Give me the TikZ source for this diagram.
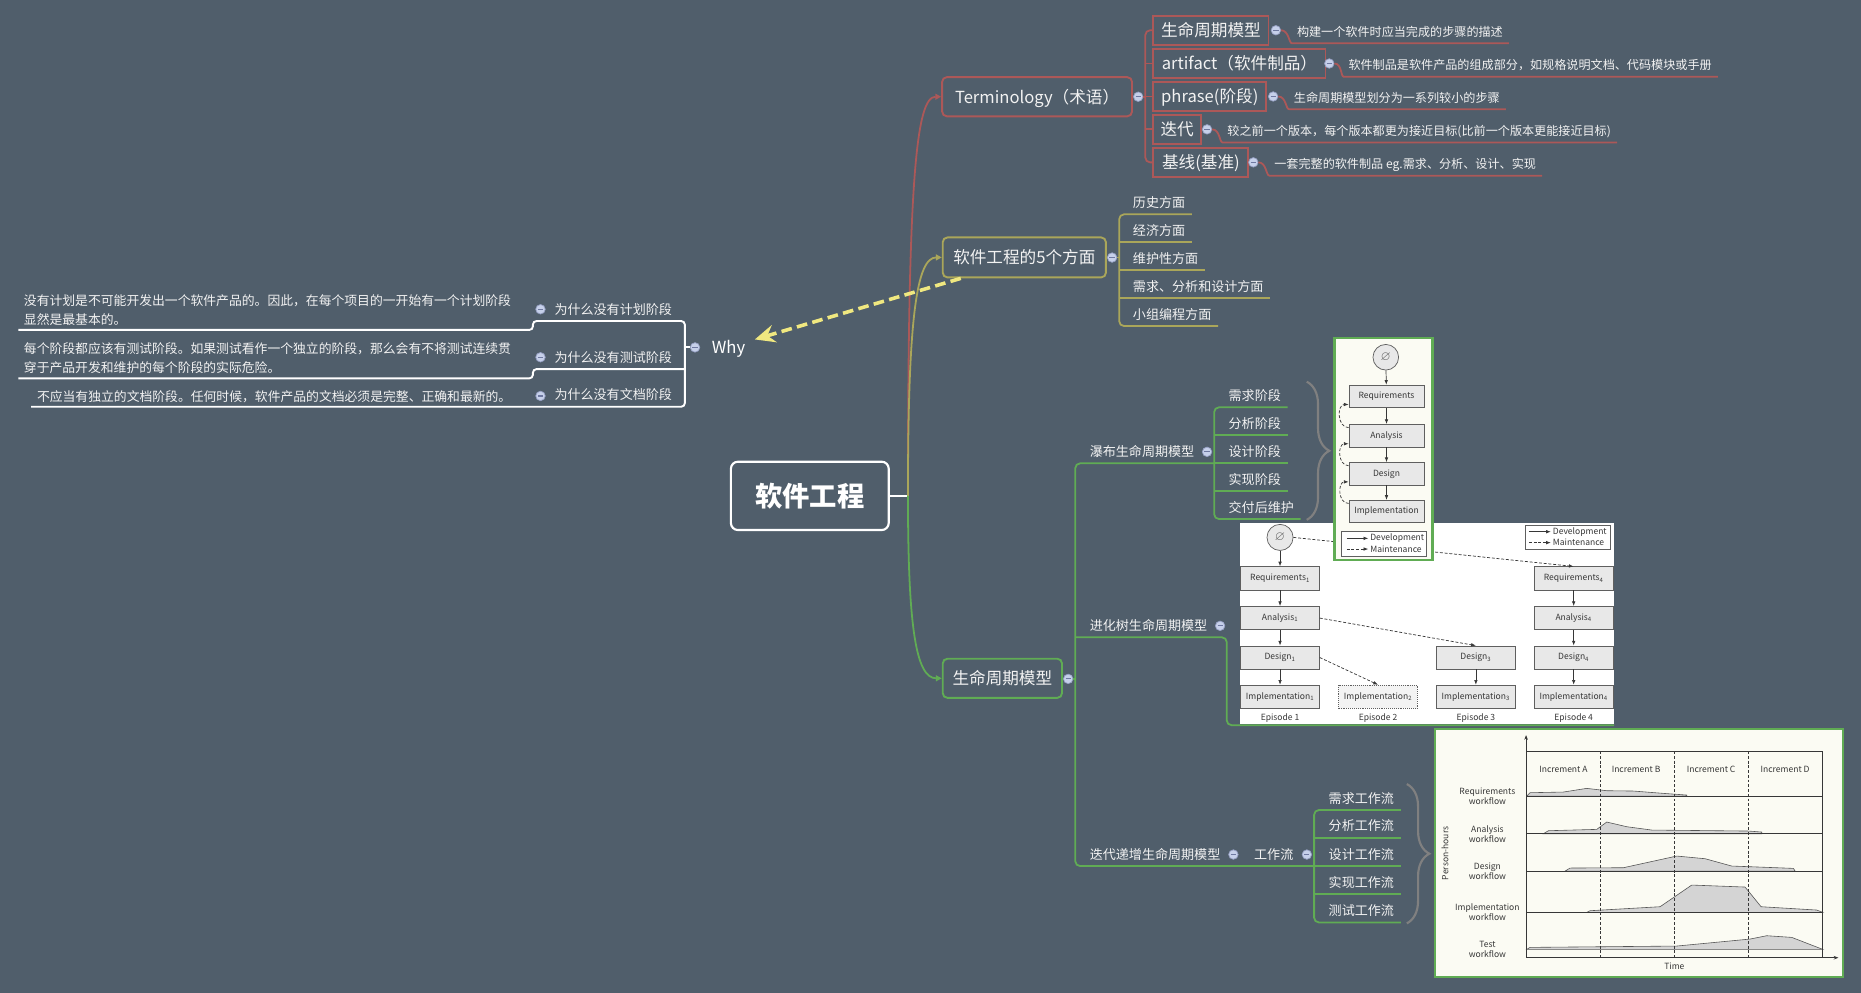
\documentclass[tikz,border=0pt]{standalone}
\usepackage{fontspec}
\setmainfont{Noto Sans CJK SC}
\usepackage{amssymb}
\usetikzlibrary{arrows.meta,decorations.pathreplacing,positioning}

\definecolor{bgc}{RGB}{80,94,107}
\definecolor{termred}{RGB}{172,88,88}
\definecolor{aspolive}{RGB}{170,166,90}
\definecolor{lifegreen}{RGB}{96,172,84}
\definecolor{whyyellow}{RGB}{240,232,128}
\definecolor{foldfill}{RGB}{198,208,234}
\definecolor{foldrim}{RGB}{150,160,195}
\definecolor{foldbar}{RGB}{110,120,160}
\definecolor{txt}{RGB}{242,242,242}
\definecolor{bracegray}{RGB}{128,128,128}
\definecolor{figboxfill}{RGB}{232,232,232}
\definecolor{figink}{RGB}{55,55,55}
\definecolor{figcream}{RGB}{251,251,243}
\definecolor{chartfill}{RGB}{212,212,212}

\newcommand{\rootsize}{\fontsize{23}{26}\selectfont\bfseries}
\newcommand{\topicsize}{\fontsize{14}{16}\selectfont}
\newcommand{\leafsize}{\fontsize{11}{13}\selectfont}
\newcommand{\notesize}{\fontsize{10.2}{12}\selectfont}
\newcommand{\whysize}{\fontsize{10.8}{16}\selectfont}
\newcommand{\figsize}{\fontsize{7.2}{8.4}\selectfont}
\newcommand{\emptysize}{\fontsize{11}{11}\selectfont}
\newcommand{\foldat}[2]{
    \node[fold] (#1) at (#2) {};
}

\tikzset{
    root/.style={draw=white, line width=1.8pt, rounded corners=6pt, text=white, font=\rootsize,
        minimum width=133pt, minimum height=57.6pt, inner sep=0pt, text height=17.5pt, text depth=0pt},
    topic/.style={line width=1.6pt, rounded corners=4pt, text=txt, font=\topicsize, minimum height=33pt,
        inner xsep=6pt, text height=10.6pt, text depth=0pt, anchor=west},
    termbox/.style={draw=termred, line width=1.6pt, text=txt, font=\topicsize, minimum height=24.5pt,
        inner xsep=5pt, text height=10.6pt, text depth=0pt, anchor=west},
    whytext/.style={text=white, font=\topicsize, inner sep=0pt, anchor=base west},
    leaf/.style={text=txt, font=\leafsize, inner xsep=0pt, inner ysep=5.5pt, text depth=0pt, anchor=south west},
    note/.style={text=txt, font=\notesize, inner xsep=0pt, inner ysep=5.6pt, text depth=0pt, anchor=south west},
    whynote/.style={text=txt, font=\whysize, align=left, inner xsep=0pt, inner ysep=4.5pt, text depth=0pt, anchor=south west},
    fold/.style={circle, draw=foldrim, fill=foldfill, line width=0.6pt, inner sep=0pt, minimum size=8pt,
        path picture={\draw[foldbar, line width=1pt] ([xshift=-2.2pt]path picture bounding box.center) -- ([xshift=2.2pt]path picture bounding box.center);}},
    termbr/.style={draw=termred, line width=1.5pt, rounded corners=4pt},
    aspbr/.style={draw=aspolive, line width=1.5pt, rounded corners=4pt},
    lifebr/.style={draw=lifegreen, line width=1.5pt, rounded corners=4pt},
    whybr/.style={draw=white, line width=1.6pt, rounded corners=3pt},
    branchtip/.style={-{Triangle[length=5pt,width=5pt]}},
    relarrow/.style={draw=whyyellow, line width=3pt, dash pattern=on 9pt off 4.5pt,
        -{Stealth[length=17pt,width=15pt,inset=6pt]}},
    summ/.style={decorate, decoration={brace, amplitude=19pt}, draw=bracegray, line width=1.8pt},
    figframe/.style={draw=lifegreen, line width=2pt, fill=figcream},
    figbox/.style={draw=figink!80, fill=figboxfill, line width=0.6pt, font=\figsize, text=figink,
        minimum width=66.3pt, minimum height=19.5pt, inner sep=0pt},
    figcirc/.style={circle, draw=figink!80, fill=figboxfill, line width=0.6pt, font=\emptysize, text=figink!80,
        minimum size=22pt, inner sep=0pt},
    figtxt/.style={font=\figsize, text=figink, inner sep=0pt},
    dev/.style={draw=figink, line width=0.6pt, -{Latex[length=4pt,width=3pt]}},
    maint/.style={dev, dash pattern=on 2.5pt off 1.5pt},
    chartline/.style={draw=figink, line width=0.6pt},
    chartdash/.style={draw=figink, line width=0.6pt, dash pattern=on 2.5pt off 1.5pt},
    chartshape/.style={fill=chartfill, draw=figink!85, line width=0.5pt}
}

\begin{document}
\begin{tikzpicture}[x=1pt,y=-1pt]
\useasboundingbox (0,0) rectangle (1568,836.6);
\fill[bgc] (0,0) rectangle (1568,836.6);

% central topic and main branches
\node[root] (root) at (682.3,417.8) {软件工程};
\coordinate (hub) at (765,417.8);
\draw[draw=white, line width=1.6pt] (root.east) -- (hub);

\node[topic, draw=termred, minimum width=160pt] (term) at (793,81.5) {Terminology（术语）};
\node[topic, draw=aspolive, minimum width=137.5pt, minimum height=33.7pt] (five) at (793.5,216.9) {软件工程的5个方面};
\node[topic, draw=lifegreen, minimum width=100.5pt] (life) at (793.5,571.5) {生命周期模型};

\draw[termbr, branchtip] (hub) .. controls (765,150) and (772,81.5) .. (term.west);
\draw[aspbr, branchtip] (hub) .. controls (765,270) and (772,216.9) .. (five.west);
\draw[lifebr, branchtip] (hub) .. controls (765,530) and (772,571.5) .. (life.west);

% Terminology
\foldat{termf}{959,81.5}
\coordinate (termbrk) at (965,81.5);
\node[termbox, minimum width=97pt] (tm1) at (971,25.5) {生命周期模型};
\node[termbox, minimum width=145pt] (tm2) at (971,53.5) {artifact（软件制品）};
\node[termbox, minimum width=95pt] (tm3) at (971,81.3) {phrase(阶段)};
\node[termbox, minimum width=40pt] (tm4) at (971,109) {迭代};
\node[termbox, minimum width=80pt] (tm5) at (971,136.8) {基线(基准)};
\draw[termbr] (tm1.west) -- (tm1.west -| termbrk) -- (tm5.west -| termbrk) -- (tm5.west);
\foreach \k in {2,3,4}
    \draw[termbr] (tm\k.west -| termbrk) -- (tm\k.west);
\draw[termbr] (termf.east) -- (termbrk);

\foldat{tm1f}{1075,25.5}
\foldat{tm2f}{1120,53.5}
\foldat{tm3f}{1072.7,81.3}
\foldat{tm4f}{1017,109}
\foldat{tm5f}{1056,136.8}
\node[note] (tm1d) at (1092.6,36.5) {构建一个软件时应当完成的步骤的描述};
\node[note] (tm2d) at (1136,64.6) {软件制品是软件产品的组成部分，如规格说明文档、代码模块或手册};
\node[note] (tm3d) at (1090,92) {生命周期模型划分为一系列较小的步骤};
\node[note] (tm4d) at (1034,120) {较之前一个版本，每个版本都更为接近目标(比前一个版本更能接近目标)};
\node[note] (tm5d) at (1073.5,148) {一套完整的软件制品 eg.需求、分析、设计、实现};
\foreach \k in {1,...,5}
    \draw[termbr] (tm\k f.east) to[out=0,in=180] (tm\k d.south west) -- ([xshift=5pt]tm\k d.south east);

% five aspects
\foldat{fivef}{937,217}
\coordinate (aspbrk) at (943,217);
\node[leaf] (asp1) at (954.4,180.6) {历史方面};
\node[leaf] (asp2) at (954.4,204.2) {经济方面};
\node[leaf] (asp3) at (954.4,227.5) {维护性方面};
\node[leaf] (asp4) at (954.4,251.4) {需求、分析和设计方面};
\node[leaf] (asp5) at (954.4,274.7) {小组编程方面};
\draw[aspbr] ([xshift=5.5pt]asp1.south east) -- (asp1.south west -| aspbrk) -- (asp5.south west -| aspbrk) -- ([xshift=5.5pt]asp5.south east);
\foreach \k in {2,3,4}
    \draw[aspbr] (asp\k.south west -| aspbrk) -- ([xshift=5.5pt]asp\k.south east);
\draw[aspbr] (fivef.east) -- (aspbrk);

% Why
\node[whytext] (why) at (599.6,298) {Why};
\foldat{whyf}{585.6,292.7}
\coordinate (whybrk) at (577,292.7);
\coordinate (whystep) at (449,292.7);
\node[leaf] (wq1) at (467,270.5) {为什么没有计划阶段};
\node[leaf] (wq2) at (467,311) {为什么没有测试阶段};
\node[leaf] (wq3) at (467,342.7) {为什么没有文档阶段};
\foldat{wq1f}{455.4,260.6}
\foldat{wq2f}{455.4,301}
\foldat{wq3f}{455.4,333.6}
\node[whynote] (wd1) at (20,278) {没有计划是不可能开发出一个软件产品的。因此，在每个项目的一开始有一个计划阶段\\显然是最基本的。};
\node[whynote] (wd2) at (20,318.8) {每个阶段都应该有测试阶段。如果测试看作一个独立的阶段，那么会有不将测试连续贯\\穿于产品开发和维护的每个阶段的实际危险。};
\node[whynote] (wd3) at (31,342.7) {不应当有独立的文档阶段。任何时候，软件产品的文档必须是完整、正确和最新的。};
\draw[whybr] ([xshift=-4.5pt]wd1.south west) -- (whystep |- wd1.south) -- (whystep |- wq1.south) -- (wq1.south -| whybrk)
    -- (wq3.south -| whybrk) -- ([xshift=-4.7pt]wd3.south west);
\draw[whybr] ([xshift=-4.5pt]wd2.south west) -- (whystep |- wd2.south) -- (whystep |- wq2.south) -- (wq2.south -| whybrk);
\draw[whybr] (whyf.west) -- (whybrk);

% life cycle models
\foldat{lifef}{900,572}
\coordinate (lifebrk) at (906,572);
\node[leaf] (wfall) at (918,390.4) {瀑布生命周期模型};
\node[leaf] (evo) at (918,537) {进化树生命周期模型};
\node[leaf] (iter) at (918,729.7) {迭代递增生命周期模型};
\node[leaf] (flow) at (1056.5,729.7) {工作流};
\foldat{wfallf}{1017,380.7}
\foldat{evof}{1028,527.3}
\foldat{iterf}{1039.2,720}
\foldat{flowf}{1101.1,720}
\coordinate (wfbrk) at (1023,390.4);
\coordinate (flowbrk) at (1107.2,729.7);
\coordinate (evoturn) at (1033.6,537);
\coordinate (evoend) at (1360,611);
\draw[lifebr] (wfbrk) -- (wfall.south west -| lifebrk) -- (iter.south west -| lifebrk) -- (flowbrk);
\draw[lifebr] (lifef.east) -- (lifebrk);

\node[leaf] (wf1) at (1035,343.2) {需求阶段};
\node[leaf] (wf2) at (1035,366.5) {分析阶段};
\node[leaf] (wf3) at (1035,390.4) {设计阶段};
\node[leaf] (wf4) at (1035,413.7) {实现阶段};
\node[leaf] (wf5) at (1035,437.3) {交付后维护};
\draw[lifebr] ([xshift=5.5pt]wf1.south east) -- (wf1.south west -| wfbrk) -- (wf5.south west -| wfbrk) -- ([xshift=5.5pt]wf5.south east);
\foreach \k in {2,3,4}
    \draw[lifebr] (wf\k.south west -| wfbrk) -- ([xshift=5.5pt]wf\k.south east);

\node[leaf] (fl1) at (1119.3,682.5) {需求工作流};
\node[leaf] (fl2) at (1119.3,705.8) {分析工作流};
\node[leaf] (fl3) at (1119.3,729.7) {设计工作流};
\node[leaf] (fl4) at (1119.3,753.3) {实现工作流};
\node[leaf] (fl5) at (1119.3,777.2) {测试工作流};
\draw[lifebr] ([xshift=5.5pt]fl1.south east) -- (fl1.south west -| flowbrk) -- (fl5.south west -| flowbrk) -- ([xshift=5.5pt]fl5.south east);
\foreach \k in {2,3,4}
    \draw[lifebr] (fl\k.south west -| flowbrk) -- ([xshift=5.5pt]fl\k.south east);

% evolution tree picture
\fill[white] (1045,441) rectangle (1360,609.8);
\node[figcirc] (ecirc) at (1078.5,452.8) {$\varnothing$};
\node[figbox] (er1) at (1078.5,487.3) {Requirements\textsubscript{1}};
\node[figbox] (ea1) at (1078.5,520.75) {Analysis\textsubscript{1}};
\node[figbox] (ed1) at (1078.5,554) {Design\textsubscript{1}};
\node[figbox] (ei1) at (1078.5,587) {Implementation\textsubscript{1}};
\node[figbox, fill=figboxfill!50, densely dotted] (ei2) at (1161.1,587) {Implementation\textsubscript{2}};
\node[figbox] (ed3) at (1243.5,554) {Design\textsubscript{3}};
\node[figbox] (ei3) at (1243.5,587) {Implementation\textsubscript{3}};
\node[figbox] (er4) at (1325.9,487.3) {Requirements\textsubscript{4}};
\node[figbox] (ea4) at (1325.9,520.75) {Analysis\textsubscript{4}};
\node[figbox] (ed4) at (1325.9,554) {Design\textsubscript{4}};
\node[figbox] (ei4) at (1325.9,587) {Implementation\textsubscript{4}};
\node[figtxt] (ep1) at (1078.5,605.2) {Episode 1};
\node[figtxt] (ep2) at (1161.1,605.2) {Episode 2};
\node[figtxt] (ep3) at (1243.5,605.2) {Episode 3};
\node[figtxt] (ep4) at (1325.9,605.2) {Episode 4};
\draw[dev] (ecirc) -- (er1);
\draw[dev] (er1) -- (ea1);
\draw[dev] (ea1) -- (ed1);
\draw[dev] (ed1) -- (ei1);
\draw[dev] (ed3) -- (ei3);
\draw[dev] (er4) -- (ea4);
\draw[dev] (ea4) -- (ed4);
\draw[dev] (ed4) -- (ei4);
\draw[maint] (ecirc.east) -- (er4.north);
\draw[maint] (ea1.east) -- (ed3.north);
\draw[maint] (ed1.east) -- (ei2.north);
\node[draw=figink!80, line width=0.5pt, minimum width=72.2pt, minimum height=20.5pt, inner sep=0pt] (eleg) at (1320.9,452.65) {};
\node[figtxt, anchor=west] (elegdev) at (1308.2,448) {Development};
\node[figtxt, anchor=west] (elegmnt) at (1308.2,457.2) {Maintenance};
\draw[dev] ([xshift=-20pt]elegdev.west) -- ([xshift=-1.5pt]elegdev.west);
\draw[maint] ([xshift=-20pt]elegmnt.west) -- ([xshift=-1.5pt]elegmnt.west);
\draw[lifebr] (evo.south west -| lifebrk) -- (evoturn) -- (evoturn |- evoend) -- (evoend);

% waterfall picture
\draw[figframe] (1124.3,285) rectangle (1206.8,471.9);
\node[figcirc, minimum size=21.6pt] (wcirc) at (1167.6,301) {$\varnothing$};
\node[figbox, minimum width=63.2pt, minimum height=19pt] (wreq) at (1168.2,334) {Requirements};
\node[figbox, minimum width=63.2pt, minimum height=19pt] (wana) at (1168.2,367.1) {Analysis};
\node[figbox, minimum width=63.2pt, minimum height=19pt] (wdes) at (1168.2,399.2) {Design};
\node[figbox, minimum width=63.2pt, minimum height=19pt] (wimp) at (1168.2,431) {Implementation};
\draw[dev] (wcirc) -- (wreq);
\draw[dev] (wreq) -- (wana);
\draw[dev] (wana) -- (wdes);
\draw[dev] (wdes) -- (wimp);
\draw[maint] ([yshift=-3pt]wana.north west) to[out=180,in=180,looseness=1.3] ([yshift=3pt]wreq.south west);
\draw[maint] ([yshift=-3pt]wdes.north west) to[out=180,in=180,looseness=1.3] ([yshift=3pt]wana.south west);
\draw[maint] ([yshift=-3pt]wimp.north west) to[out=180,in=180,looseness=1.3] ([yshift=3pt]wdes.south west);
\node[draw=figink!80, fill=white, line width=0.5pt, minimum width=71.7pt, minimum height=21.1pt, inner sep=0pt] (wleg) at (1166.15,458.05) {};
\node[figtxt, anchor=west] (wlegdev) at (1154.4,453.6) {Development};
\node[figtxt, anchor=west] (wlegmnt) at (1154.4,462.6) {Maintenance};
\draw[dev] ([xshift=-19.7pt]wlegdev.west) -- ([xshift=-1.5pt]wlegdev.west);
\draw[maint] ([xshift=-19.7pt]wlegmnt.west) -- ([xshift=-1.5pt]wlegmnt.west);

% iterative and incremental picture
\draw[figframe] (1209,614) rectangle (1553,823);
\begin{scope}[shift={(1204.9,615.1)}, scale=0.28087]
    \filldraw[chartshape] (290,198) -- (300,188) -- (400,186) -- (470,175) -- (530,182) -- (610,183) -- (700,190) -- (770,195) -- (770,198) -- cycle;
    \filldraw[chartshape] (340,311) -- (355,302) -- (500,298) -- (530,276) -- (590,290) -- (665,300) -- (955,303) -- (995,306) -- (995,311) -- cycle;
    \filldraw[chartshape] (405,423) -- (420,414) -- (580,413) -- (740,378) -- (825,386) -- (905,408) -- (960,410) -- (1090,415) -- (1095,423) -- cycle;
    \filldraw[chartshape] (470,547) -- (480,542) -- (690,530) -- (785,465) -- (945,471) -- (993,530) -- (1160,540) -- (1178,547) -- cycle;
    \filldraw[chartshape] (290,658) -- (300,652) -- (740,648) -- (960,627) -- (1010,617) -- (1085,622) -- (1178,658) -- cycle;
    \draw[chartline] (288,63) -- (1178,63) -- (1178,683);
    \foreach \r in {198,311,423,547}
        \draw[chartline] (288,\r) -- (1178,\r);
    \foreach \c in {511,733,955}
        \draw[chartdash] (\c,63) -- (\c,683);
    \draw[chartline, -{Stealth[length=4pt,width=3pt]}] (288,683) -- (288,15);
    \draw[chartline, -{Stealth[length=4pt,width=3pt]}] (288,683) -- (1225,683);
    \node[figtxt] (incA) at (400,118) {Increment A};
    \node[figtxt] (incB) at (618,118) {Increment B};
    \node[figtxt] (incC) at (843,118) {Increment C};
    \node[figtxt] (incD) at (1065,118) {Increment D};
    \node[figtxt, align=center] (rowreq) at (172,200) {Requirements\\workflow};
    \node[figtxt, align=center] (rowana) at (172,312) {Analysis\\workflow};
    \node[figtxt, align=center] (rowdes) at (172,424) {Design\\workflow};
    \node[figtxt, align=center] (rowimp) at (172,546) {Implementation\\workflow};
    \node[figtxt, align=center] (rowtest) at (172,658) {Test\\workflow};
    \node[figtxt, rotate=90] (yaxis) at (45,370) {Person-hours};
    \node[figtxt] (xaxis) at (733,710) {Time};
\end{scope}

% summary braces
\draw[summ] (1101,321.6) -- (1101,438);
\draw[summ] (1185.3,660.6) -- (1185.3,778);

% relationship
\coordinate (whytip) at (636,286);
\draw[relarrow] ([xshift=16pt]five.south west) -- (whytip);
\end{tikzpicture}
\end{document}
